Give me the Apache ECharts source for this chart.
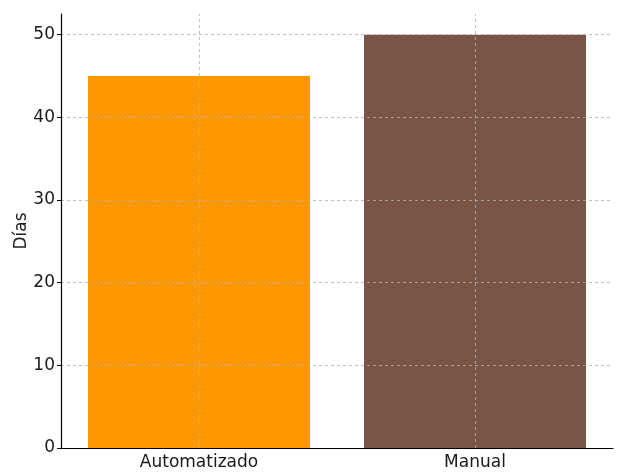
<!DOCTYPE html>
<html>
<head>
<meta charset="utf-8">
<script src="https://cdn.jsdelivr.net/npm/echarts@6/dist/echarts.min.js"></script>
<style>
  html, body { margin: 0; padding: 0; background: #fff; }
  #chart { width: 621px; height: 476px; }
</style>
</head>
<body>
<div id="chart"></div>
<script>
// datos
const categories = ["Automatizado", "Manual"];
const dias = [45, 50];
const colors = ["#fe9800", "#795548"];
const yTicks = { min: 0, max: 52.5, interval: 10 };

const FONT = "DejaVu Sans";
const GRID = { color: "#b0b0b0", type: [3, 3], width: 0.8 };
const chart = echarts.init(document.getElementById("chart"));

chart.setOption({
  animation: false,
  textStyle: { fontFamily: FONT },
  grid: { left: 61, right: 8, top: 14, bottom: 28 },
  xAxis: {
    type: "category",
    data: categories,
    z: 3,
    axisLine: { lineStyle: { color: "#000", width: 1.2 } },
    axisTick: { alignWithLabel: true, length: 5, lineStyle: { color: "#000" } },
    axisLabel: { color: "#1a1a1a", fontSize: 17, margin: 6, fontFamily: FONT },
    splitLine: { show: false },
  },
  yAxis: {
    type: "value",
    min: yTicks.min,
    max: yTicks.max,
    interval: yTicks.interval,
    z: 3,
    name: "Días",
    nameLocation: "middle",
    nameGap: 31,
    nameMoveOverlap: false,
    nameTextStyle: { color: "#1a1a1a", fontSize: 17, fontFamily: FONT },
    axisLine: { show: true, lineStyle: { color: "#000", width: 1.2 } },
    axisTick: { show: true, length: 4, lineStyle: { color: "#000" } },
    axisLabel: { color: "#1a1a1a", fontSize: 17, margin: 6, showMaxLabel: false, fontFamily: FONT },
    splitLine: { show: true, showMinLine: false, showMaxLine: false, lineStyle: GRID },
  },
  series: [
    {
      type: "bar",
      barWidth: 222,
      data: dias.map((v, i) => ({ value: v, itemStyle: { color: colors[i] } })),
      // líneas verticales de la rejilla en el centro de cada categoría
      markLine: {
        silent: true,
        symbol: "none",
        z: 5,
        label: { show: false },
        lineStyle: GRID,
        data: categories.map((c) => ({ xAxis: c })),
      },
    },
  ],
});
</script>
</body>
</html>
